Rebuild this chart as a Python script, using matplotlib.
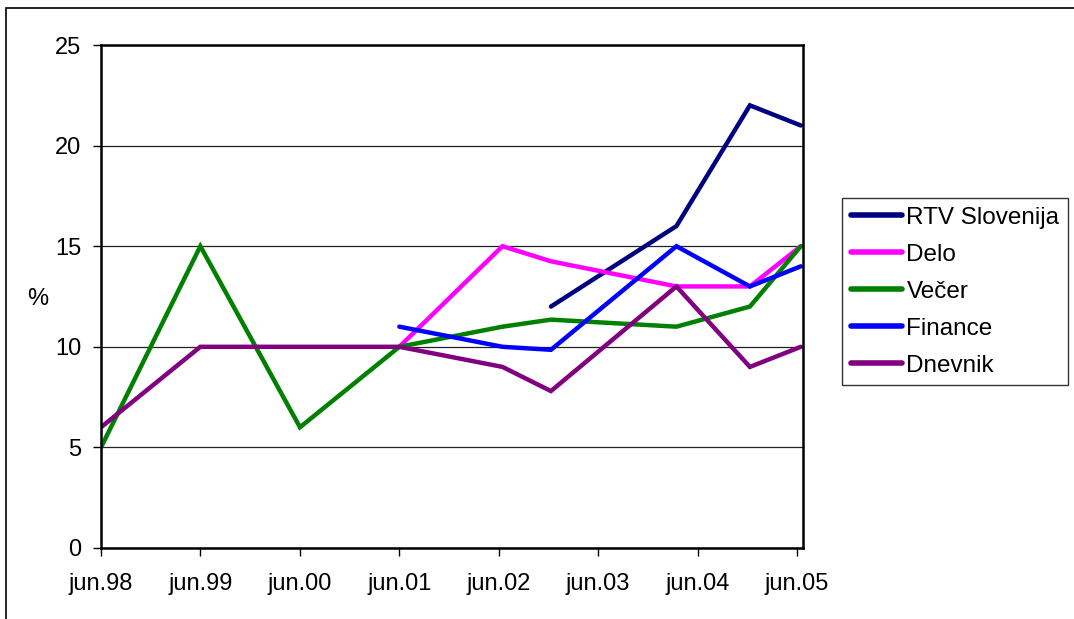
import numpy as np
import pandas as pd
import matplotlib
matplotlib.use("Agg")
import matplotlib.pyplot as plt
from matplotlib.patches import Rectangle

# survey dates (x positions)
dates = ["1998-06-01", "1999-06-01", "2000-06-01", "2001-06-01", "2002-06-15",
         "2002-12-10", "2004-03-15", "2004-12-10", "2005-06-15"]

# values in %, None where the series has no point
rtv_slovenija = [None, None, None, None, None, 12, 16, 22, 21]
delo = [None, None, None, 10, 15, 14.25, 13, 13, 15]
vecer = [5, 15, 6, 10, 11, 11.35, 11, 12, 15]
finance = [None, None, None, 11, 10, 9.85, 15, 13, 14]
dnevnik = [6, 10, 10, 10, 9, 7.8, 13, 9, 10]

series_names = ["RTV Slovenija", "Delo", "Večer", "Finance", "Dnevnik"]
series_colors = ["#000080", "#FF00FF", "#008000", "#0000FF", "#800080"]

tick_dates = ["1998-06-01", "1999-06-01", "2000-06-01", "2001-06-01",
              "2002-06-01", "2003-06-01", "2004-06-01", "2005-06-01"]
tick_labels = ["jun.98", "jun.99", "jun.00", "jun.01",
               "jun.02", "jun.03", "jun.04", "jun.05"]

plt.rcParams['font.family'] = ['Liberation Sans', 'DejaVu Sans']

fig = plt.figure(figsize=(10.74, 6.19), dpi=100)
ax = fig.add_axes([101 / 1074, 1 - 548 / 619, 702 / 1074, 503 / 619])

# outer chart frame (only top and left edges are visible in the crop)
fig.patches.append(Rectangle((6 / 1074, -0.1), 1.2, 1 - 8 / 619 + 0.1,
                             transform=fig.transFigure, fill=False,
                             edgecolor="black", linewidth=1.2))

x = pd.to_datetime(dates)
all_series = [rtv_slovenija, delo, vecer, finance, dnevnik]
for name, vals, col in zip(series_names, all_series, series_colors):
    y = np.array([np.nan if v is None else v for v in vals], dtype=float)
    mask = ~np.isnan(y)
    ax.plot(x[mask], y[mask], color=col, linewidth=3.2, label=name,
            solid_capstyle="round", solid_joinstyle="miter")

ax.set_ylim(0, 25)
ax.set_yticks([0, 5, 10, 15, 20, 25])
ax.set_xlim(pd.Timestamp("1998-06-01"), pd.Timestamp("2005-06-23"))
ax.set_xticks(pd.to_datetime(tick_dates))
ax.set_xticklabels(tick_labels)

ax.grid(axis="y", color="#222222", linewidth=0.9)
ax.set_axisbelow(True)
for sp in ax.spines.values():
    sp.set_linewidth(1.8)
    sp.set_color("black")

ax.tick_params(axis="both", direction="out", length=6, width=1,
               labelsize=17, colors="black")
ax.tick_params(axis="x", pad=12)
ax.tick_params(axis="y", pad=8)

ax.set_ylabel("%", rotation=0, fontsize=17, va="center")
ax.yaxis.set_label_coords(-0.09, 0.495)

leg = fig.legend(loc="upper left", bbox_to_anchor=(842 / 1074, 1 - 198 / 619),
                 bbox_transform=fig.transFigure, fontsize=17.5, frameon=True,
                 fancybox=False, handlelength=2.1, handletextpad=0.2,
                 borderpad=0.35, labelspacing=0.62, borderaxespad=0)
leg.get_frame().set_edgecolor("black")
leg.get_frame().set_linewidth(1.0)
for line in leg.get_lines():
    line.set_linewidth(4)

fig.savefig("out.png", dpi=100)
